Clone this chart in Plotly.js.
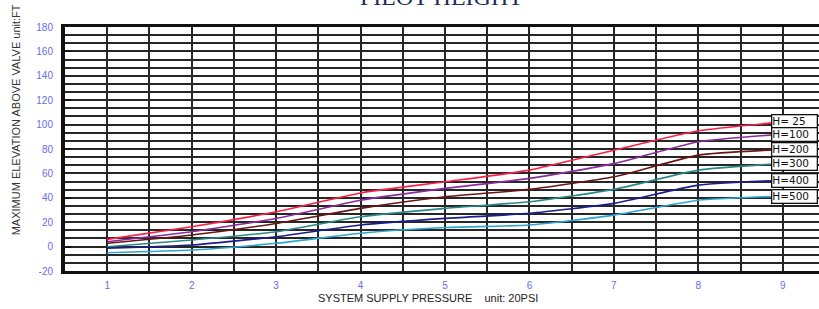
<!DOCTYPE html>
<html><head><meta charset="utf-8">
<script src="https://cdn.plot.ly/plotly-3.0.1.min.js"></script>
<style>html,body{margin:0;padding:0;overflow:hidden;background:#fff;}#chart{width:830px;height:309px;}</style>
</head><body><div id="chart"></div>
<script>
const pressure = [1, 2, 3, 4, 5, 6, 7, 8, 9];
const seriesNames = ['H= 25', 'H=100', 'H=200', 'H=300', 'H=400', 'H=500'];
const h25  = [5.9, 16.3, 28.6, 44.0, 53.1, 62.7, 79.0, 94.9, 102.2];
const h100 = [4.0, 12.2, 23.1, 38.0, 47.7, 55.9, 68.0, 85.9, 92.2];
const h200 = [2.7, 9.5, 19.0, 31.3, 40.8, 46.9, 57.2, 75.0, 79.6];
const h300 = [-0.1, 5.4, 12.2, 24.4, 31.3, 36.8, 46.9, 62.7, 68.2];
const h400 = [-1.4, 1.3, 8.1, 17.7, 23.1, 27.3, 35.4, 50.4, 54.4];
const h500 = [-5.0, -2.8, 2.7, 10.9, 15.6, 17.7, 25.8, 38.0, 41.4];
const colors = ['#ff1f45', '#8b2c9c', '#6a1414', '#2a8888', '#1c1c8c', '#2ea6cf'];
const allSeries = [h25, h100, h200, h300, h400, h500];

const yTickVals = [], yTickText = [];
for (let i = 0; i <= 30; i++) { const v = -20 + i * 20 / 3; yTickVals.push(v); yTickText.push(i % 3 === 0 ? String(Math.round(v)) : ''); }
const xTickVals = [], xTickText = [];
for (let i = 1; i <= 19; i++) { const v = i * 0.5; xTickVals.push(v); xTickText.push(i % 2 === 0 ? String(v) : ''); }

const traces = allSeries.map((s, i) => ({
  x: pressure, y: s, type: 'scatter', mode: 'lines', name: seriesNames[i],
  line: {color: colors[i], width: 1.6, shape: 'spline', smoothing: 0.5}, hoverinfo: 'skip'
}));

const annotations = allSeries.map((s, i) => ({
  x: 8.86, y: s[s.length - 1], xref: 'x', yref: 'y', xanchor: 'left', yanchor: 'middle',
  text: seriesNames[i], showarrow: false, align: 'left',
  font: {family: 'DejaVu Sans', size: 10.5, color: '#111'},
  bgcolor: '#fff', bordercolor: '#111', borderwidth: 1.3, borderpad: 0, width: 44, height: 12
}));
annotations.push({
  xref: 'paper', yref: 'paper', x: 0.495, y: 1.0615, xanchor: 'center', yanchor: 'bottom',
  text: 'PILOT HEIGHT', showarrow: false,
  font: {family: 'Liberation Serif', size: 24, color: '#1f2d5c'}
});
annotations.push({
  xref: 'paper', yref: 'paper', x: -0.065, y: 0.62, xanchor: 'center', yanchor: 'middle', textangle: -90,
  text: 'MAXIMUM ELEVATION ABOVE VALVE unit:FT', showarrow: false,
  font: {family: 'Liberation Sans Narrow, Liberation Sans, Arial', size: 11, color: '#333'}
});
annotations.push({
  xref: 'paper', yref: 'paper', x: 0.478, y: -0.111, xanchor: 'center', yanchor: 'middle',
  text: 'SYSTEM SUPPLY PRESSURE &nbsp;&nbsp;&nbsp;unit: 20PSI', showarrow: false,
  font: {family: 'Liberation Sans Narrow, Liberation Sans, Arial', size: 11, color: '#222'}
});

const layout = {
  width: 830, height: 309,
  margin: {l: 65, r: 5, t: 27, b: 38},
  paper_bgcolor: '#fff', plot_bgcolor: '#fff', showlegend: false,
  xaxis: {
    range: [0.5, 9.5], tickmode: 'array', tickvals: xTickVals, ticktext: xTickText,
    showgrid: true, gridcolor: '#262626', gridwidth: 2, zeroline: false,
    showline: true, linecolor: '#111', linewidth: 3, mirror: true, ticks: '',
    tickfont: {family: 'Liberation Sans', size: 10, color: '#6a6af2'}, ticklabelstandoff: 3
  },
  yaxis: {
    range: [-20, 180], tickmode: 'array', tickvals: yTickVals, ticktext: yTickText,
    showgrid: true, gridcolor: '#262626', gridwidth: 2, zeroline: false,
    showline: true, linecolor: '#111', linewidth: 4, mirror: true, ticks: '',
    tickfont: {family: 'Liberation Sans', size: 10, color: '#6a6af2'}, ticklabelstandoff: 6,
    minor: {tickmode: 'array', tickvals: [0, 40, 80, 120, 160], ticks: 'inside', ticklen: 6, tickwidth: 2, tickcolor: '#111', showgrid: false}
  },
  annotations: annotations
};
Plotly.newPlot('chart', traces, layout, {staticPlot: true, displayModeBar: false});
</script></body></html>
